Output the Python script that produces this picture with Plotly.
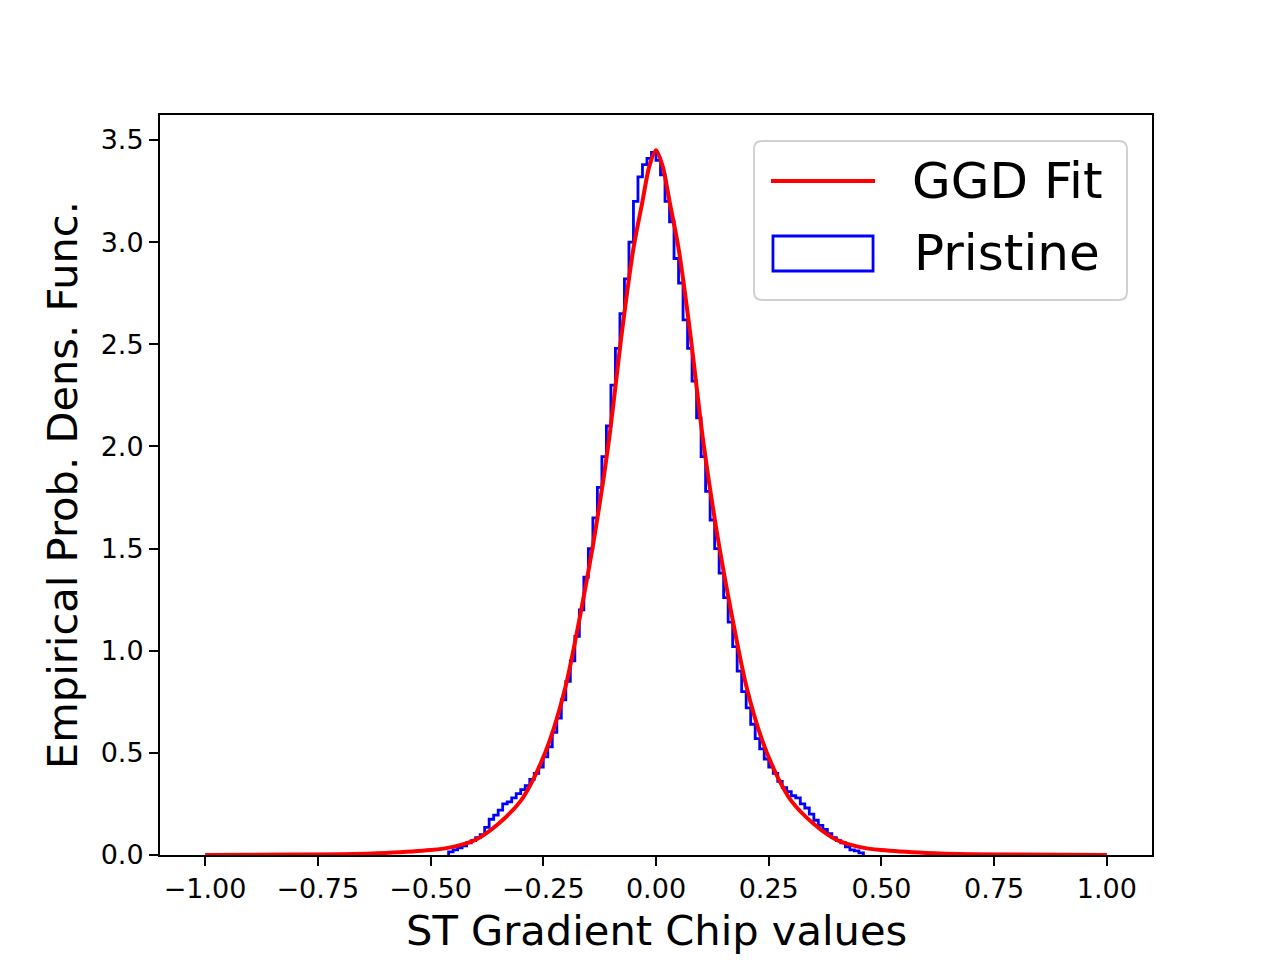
import plotly.graph_objects as go

# ---- data ----
# histogram (empirical pdf), bins of width 0.01 from -0.46 to 0.46
bin_start = -0.46
bin_width = 0.01
hist_values = [
    0.015, 0.025, 0.035, 0.045, 0.06, 0.07, 0.085, 0.10, 0.135, 0.175,
    0.195, 0.22, 0.25, 0.26, 0.28, 0.30, 0.32, 0.34, 0.37, 0.40,
    0.43, 0.48, 0.53, 0.60, 0.67, 0.76, 0.85, 0.95, 1.07, 1.20,
    1.36, 1.50, 1.65, 1.80, 1.95, 2.10, 2.30, 2.48, 2.65, 2.82,
    3.00, 3.20, 3.32, 3.38, 3.41, 3.44,
    3.40, 3.33, 3.20, 3.10, 2.92, 2.80, 2.62, 2.48, 2.32, 2.14,
    1.95, 1.78, 1.64, 1.50, 1.38, 1.26, 1.14, 1.02, 0.90, 0.80,
    0.72, 0.64, 0.57, 0.52, 0.47, 0.43, 0.40, 0.36, 0.33, 0.31,
    0.29, 0.28, 0.25, 0.23, 0.20, 0.17, 0.145, 0.125, 0.105, 0.085,
    0.07, 0.06, 0.04, 0.025, 0.02, 0.01,
]

# GGD fit curve
fit_x = [-1.0, -0.8, -0.7, -0.6, -0.5, -0.45, -0.4, -0.35, -0.3, -0.27,
         -0.235, -0.2, -0.165, -0.135, -0.105, -0.075, -0.05, -0.03, -0.015, 0.0,
         0.015, 0.03, 0.05, 0.075, 0.105, 0.135, 0.165, 0.2, 0.235, 0.27,
         0.3, 0.35, 0.4, 0.45, 0.5, 0.6, 0.7, 0.8, 1.0]
fit_y = [0.0005, 0.002, 0.004, 0.01, 0.024, 0.04, 0.075, 0.152, 0.265, 0.38,
         0.565, 0.83, 1.21, 1.58, 2.02, 2.57, 2.97, 3.20, 3.37, 3.45,
         3.37, 3.20, 2.97, 2.57, 2.02, 1.58, 1.21, 0.83, 0.565, 0.38,
         0.265, 0.152, 0.075, 0.04, 0.024, 0.01, 0.004, 0.002, 0.0005]

x_ticks = [-1.0, -0.75, -0.5, -0.25, 0.0, 0.25, 0.5, 0.75, 1.0]
y_ticks = [0.0, 0.5, 1.0, 1.5, 2.0, 2.5, 3.0, 3.5]

# ---- build step outline from bins ----
n = len(hist_values)
edges = [bin_start + i * bin_width for i in range(n + 1)]
step_x = [edges[0]] + edges[:-1] + [edges[-1], edges[-1]]
step_y = [0.0] + hist_values + [hist_values[-1], 0.0]

FONT = "DejaVu Sans"

fig = go.Figure()
fig.add_trace(go.Scatter(x=step_x, y=step_y, mode="lines", line_shape="hv",
                         line=dict(color="#0000ff", width=2.8),
                         name="Pristine", showlegend=False, hoverinfo="skip"))
fig.add_trace(go.Scatter(x=fit_x, y=fit_y, mode="lines",
                         line=dict(color="#ff0000", width=4, shape="spline", smoothing=0.8),
                         name="GGD Fit", showlegend=False, hoverinfo="skip"))

axis_common = dict(showgrid=False, zeroline=False, showline=True, linecolor="black",
                   linewidth=2, mirror=True, ticks="outside", ticklen=9, tickwidth=2,
                   tickcolor="black", tickfont=dict(family=FONT, size=27, color="black"))

fig.update_xaxes(range=[-1.1, 1.1], tickvals=x_ticks,
                 ticktext=[f"{v:.2f}".replace("-", "\u2212") for v in x_ticks], **axis_common)
fig.update_yaxes(range=[0, 3.6225], tickvals=y_ticks,
                 ticktext=[f"{v:.1f}" for v in y_ticks], **axis_common)

# legend drawn manually (matplotlib style)
lx0, lx1, ly0, ly1 = 0.5988, 0.9748, 0.75, 0.9649
rx, ry = 0.0081, 0.0108
path = (f"M {lx0+rx},{ly0} L {lx1-rx},{ly0} Q {lx1},{ly0} {lx1},{ly0+ry} "
        f"L {lx1},{ly1-ry} Q {lx1},{ly1} {lx1-rx},{ly1} L {lx0+rx},{ly1} "
        f"Q {lx0},{ly1} {lx0},{ly1-ry} L {lx0},{ly0+ry} Q {lx0},{ly0} {lx0+rx},{ly0} Z")
shapes = [
    dict(type="path", xref="paper", yref="paper", path=path,
         line=dict(color="rgba(204,204,204,0.9)", width=2), fillcolor="rgba(255,255,255,0.8)"),
    dict(type="line", xref="paper", yref="paper", x0=0.6159, x1=0.7208, y0=0.9108, y1=0.9108,
         line=dict(color="#ff0000", width=4)),
    dict(type="rect", xref="paper", yref="paper", x0=0.6179, x1=0.7188, y0=0.7892, y1=0.8365,
         line=dict(color="#0000ff", width=2.8), fillcolor="rgba(0,0,0,0)"),
]
annotations = [
    dict(text="GGD Fit", xref="paper", yref="paper", x=0.7561, y=0.9108,
         xanchor="left", yanchor="middle", showarrow=False,
         font=dict(family=FONT, size=50, color="black")),
    dict(text="Pristine", xref="paper", yref="paper", x=0.7581, y=0.8135,
         xanchor="left", yanchor="middle", showarrow=False,
         font=dict(family=FONT, size=50, color="black")),
    dict(text="ST Gradient Chip values", xref="paper", yref="paper", x=0.5, y=-0.1014,
         xanchor="center", yanchor="middle", showarrow=False,
         font=dict(family=FONT, size=41.6, color="black")),
    dict(text="Empirical Prob. Dens. Func.", xref="paper", yref="paper", x=-0.0988, y=0.5,
         xanchor="center", yanchor="middle", showarrow=False, textangle=-90,
         font=dict(family=FONT, size=41.6, color="black")),
]

# page body has an 8px margin, so shift the plot area up-left to match the reference
fig.update_layout(width=1280, height=960, margin=dict(l=152, r=136, t=107, b=113),
                  paper_bgcolor="white", plot_bgcolor="white",
                  shapes=shapes, annotations=annotations, showlegend=False,
                  font=dict(family=FONT))

fig.write_html("out.html")
